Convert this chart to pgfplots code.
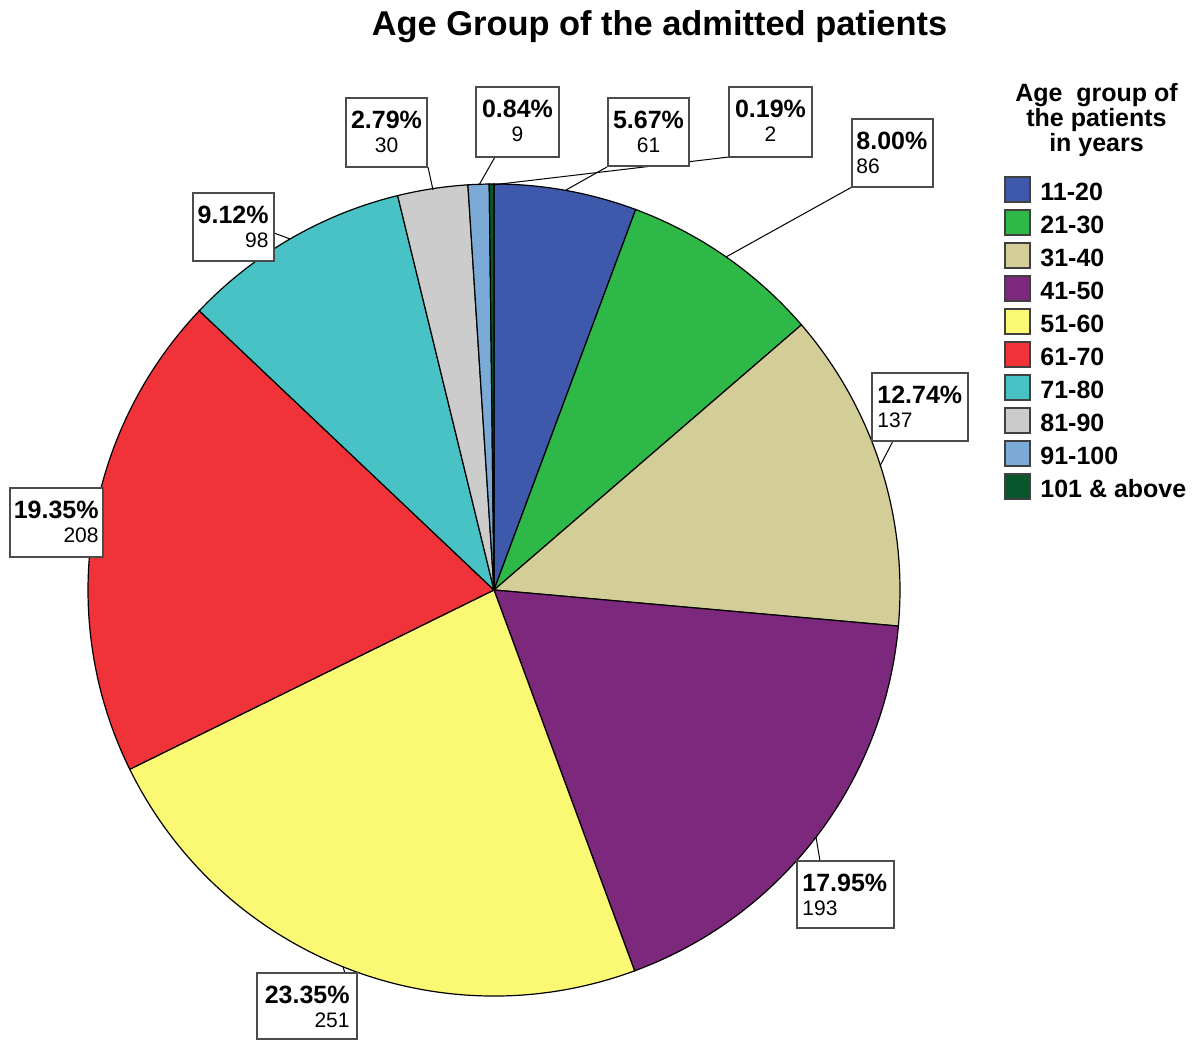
\documentclass[border=0pt]{standalone}
\usepackage{pgfplots}
\pgfplotsset{compat=1.18}
\usepackage{pgfplotstable}
\usepackage{fontspec}
\setmainfont{Liberation Sans}

\definecolor{c1}{HTML}{3E58AC}
\definecolor{c2}{HTML}{2EB848}
\definecolor{c3}{HTML}{D3CE97}
\definecolor{c4}{HTML}{7C287D}
\definecolor{c5}{HTML}{FBF873}
\definecolor{c6}{HTML}{EF3338}
\definecolor{c7}{HTML}{48C2C5}
\definecolor{c8}{HTML}{CCCCCC}
\definecolor{c9}{HTML}{7AAAD5}
\definecolor{c10}{HTML}{0A562C}

% age group, number of patients, colour
\pgfplotstableread{
grp cnt col
11-20 61 c1
21-30 86 c2
31-40 137 c3
41-50 193 c4
51-60 251 c5
61-70 208 c6
71-80 98 c7
81-90 30 c8
91-100 9 c9
101+ 2 c10
}\agedata

% label box: x1 y1 x2 y2 (pixels from top left), text x, anchor, percent, count
\newcommand\lbox[8]{%
  \draw[draw=black!70, line width=0.9pt, fill=white] (axis cs:#1,{1040-#2}) rectangle (axis cs:#3,{1040-#4});
  \node[anchor=#6, inner sep=0pt, font=\bfseries\fontsize{12.5}{14}\selectfont] at (axis cs:#5,{1040-#2-31}) {#7};
  \node[anchor=#6, inner sep=0pt, font=\fontsize{10.5}{12}\selectfont] at (axis cs:#5,{1040-#2-55}) {#8};
}
\newcommand\lead[4]{\draw[black, line width=0.5pt] (axis cs:#1,{1040-#2}) -- (axis cs:#3,{1040-#4});}

\begin{document}
\begin{tikzpicture}
\begin{axis}[
  x=0.5pt, y=0.5pt,
  xmin=0, xmax=1194, ymin=0, ymax=1040,
  hide axis, clip=false,
  legend cell align=left,
  legend image code/.code={\filldraw[#1, draw=black!75, line width=1pt] (0pt,-4.75pt) rectangle (12.5pt,7.75pt);},
  legend style={draw=none, fill=none, inner sep=0pt, at={(axis cs:1004,864)}, anchor=north west,
    font=\bfseries\fontsize{12.5}{14}\selectfont, row sep=3pt,
    nodes={inner sep=0pt},
    /tikz/every odd column/.append style={column sep=4.5pt}},
]
\path (axis cs:0,0) rectangle (axis cs:1194,1040);

% total
\def\total{0}
\pgfplotsforeachungrouped \i in {0,...,9}{%
  \pgfplotstablegetelem{\i}{cnt}\of\agedata
  \pgfmathsetmacro\total{\total+\pgfplotsretval}%
}
% slices, clockwise from 12 o'clock
\def\cum{0}
\pgfplotsforeachungrouped \i in {0,...,9}{%
  \pgfplotstablegetelem{\i}{cnt}\of\agedata
  \let\cnt\pgfplotsretval
  \pgfplotstablegetelem{\i}{col}\of\agedata
  \let\col\pgfplotsretval
  \pgfmathsetmacro\angA{90-\cum/\total*360}%
  \pgfmathsetmacro\angB{90-(\cum+\cnt)/\total*360}%
  \edef\slice{\noexpand\filldraw[fill=\col, draw=black, line width=0.6pt] (axis cs:494,450) -- ++(\angA:203pt) arc[start angle=\angA, end angle=\angB, radius=203pt] -- cycle;}%
  \slice
  \pgfmathsetmacro\cum{\cum+\cnt}%
}

% leader lines
\lead{428}{167}{433}{190}
\lead{495}{157}{479}{185}
\lead{607}{167}{566}{190}
\lead{729}{157}{492}{185}
\lead{852}{187}{726}{257}
\lead{274}{233}{290}{239}
\lead{893}{441}{880}{466}
\lead{820}{861}{816}{837}
\lead{345}{973}{343}{967}

% label boxes
\lbox{346}{98}{427}{167}{386.5}{base}{2.79\%}{30}
\lbox{476}{87}{559}{157}{517.5}{base}{0.84\%}{9}
\lbox{608}{98}{689}{166}{648.5}{base}{5.67\%}{61}
\lbox{729}{87}{812}{157}{770.5}{base}{0.19\%}{2}
\lbox{852}{119}{933}{187}{856}{base west}{8.00\%}{86}
\lbox{193}{193}{274}{261}{269}{base east}{9.12\%}{98}
\lbox{872}{373}{968}{441}{877}{base west}{12.74\%}{137}
\lbox{10}{488}{103}{557}{99}{base east}{19.35\%}{208}
\lbox{797}{861}{894}{928}{802}{base west}{17.95\%}{193}
\lbox{257}{973}{357}{1039}{350}{base east}{23.35\%}{251}

% title
\node[anchor=base, inner sep=0pt, font=\bfseries\fontsize{17.2}{20}\selectfont] at (axis cs:659.5,1004) {Age Group of the admitted patients};

% legend title
\node[anchor=base, inner sep=0pt, font=\bfseries\fontsize{12.5}{14}\selectfont] at (axis cs:1096.5,938) {Age\ \ group of};
\node[anchor=base, inner sep=0pt, font=\bfseries\fontsize{12.5}{14}\selectfont] at (axis cs:1096.5,913) {the patients};
\node[anchor=base, inner sep=0pt, font=\bfseries\fontsize{12.5}{14}\selectfont] at (axis cs:1096.5,888) {in years};

\addlegendimage{fill=c1}\addlegendentry{11-20}
\addlegendimage{fill=c2}\addlegendentry{21-30}
\addlegendimage{fill=c3}\addlegendentry{31-40}
\addlegendimage{fill=c4}\addlegendentry{41-50}
\addlegendimage{fill=c5}\addlegendentry{51-60}
\addlegendimage{fill=c6}\addlegendentry{61-70}
\addlegendimage{fill=c7}\addlegendentry{71-80}
\addlegendimage{fill=c8}\addlegendentry{81-90}
\addlegendimage{fill=c9}\addlegendentry{91-100}
\addlegendimage{fill=c10}\addlegendentry{101 \& above}
\end{axis}
\end{tikzpicture}
\end{document}
